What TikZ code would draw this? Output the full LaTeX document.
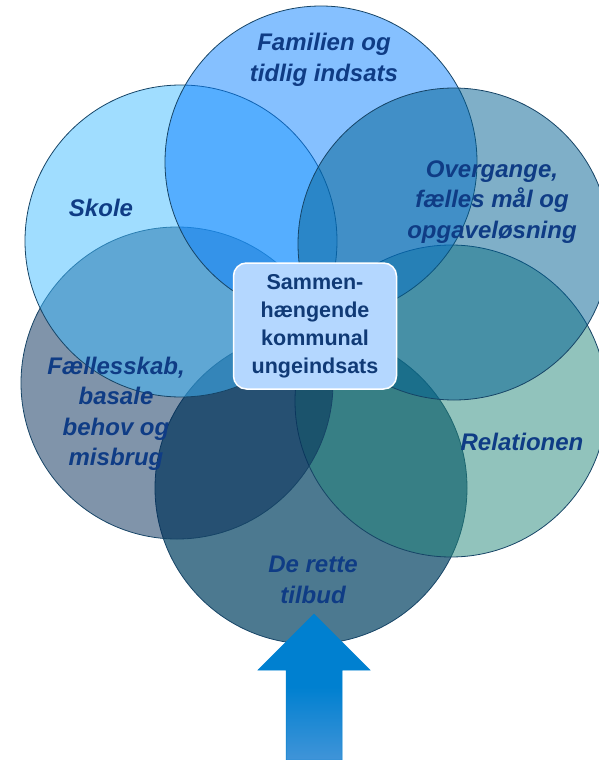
\documentclass[tikz,border=0pt]{standalone}
\usepackage{fontspec}
\setmainfont{Liberation Sans}
\definecolor{cfam}{RGB}{11,129,255}
\definecolor{csko}{RGB}{65,187,255}
\definecolor{cove}{RGB}{0,95,145}
\definecolor{crel}{RGB}{35,135,121}
\definecolor{cfae}{RGB}{1,41,85}
\definecolor{cret}{RGB}{16,76,107}
\definecolor{cline}{RGB}{22,68,102}
\definecolor{ctext}{RGB}{15,60,133}
\definecolor{cboxtext}{RGB}{16,58,118}
\definecolor{cbox}{RGB}{180,215,255}
\definecolor{carrowtop}{RGB}{0,128,208}
\definecolor{carrowbot}{RGB}{64,148,216}
\tikzset{
  venn/.style={circle, minimum size=312pt, inner sep=0pt, draw=cline, line width=0.8pt, fill opacity=0.5},
  lbl/.style={text=ctext, align=center, inner sep=0pt, font={\fontsize{24}{30.5}\selectfont\bfseries\itshape}},
  centerbox/.style={rounded corners=13pt, minimum width=163pt, minimum height=126pt, fill=cbox, draw=white, line width=1.5pt, text=cboxtext, align=center, inner sep=0pt, font={\fontsize{21.5}{28}\selectfont\bfseries}},
  bigarrow/.style={top color=carrowtop, bottom color=carrowbot, middle color=carrowtop, draw=carrowtop, line width=0.5pt}
}
\begin{document}
\begin{tikzpicture}[x=1pt,y=-1pt]
\useasboundingbox (0,0) rectangle (598,760);
% circles, bottom to top
\node[venn, fill=cret, fill opacity=0.75] (ret) at (311,488) {};
\node[venn, fill=crel] (rel) at (451,401) {};
\node[venn, fill=cfae] (fae) at (177,383) {};
\node[venn, fill=csko] (sko) at (181,241) {};
\node[venn, fill=cfam] (fam) at (321,162) {};
\node[venn, fill=cove] (ove) at (454,244) {};
% labels
\node[lbl] (tfam) at (324,60) {Familien og\\tidlig indsats};
\node[lbl] (tsko) at (101,208) {Skole};
\node[lbl] (tove) at (492,202) {Overgange,\\fælles mål og\\opgaveløsning};
\node[lbl] (tfae) at (116,414) {Fællesskab,\\basale\\behov og\\misbrug};
\node[lbl] (trel) at (522,442) {Relationen};
\node[lbl] (tret) at (313,580) {De rette\\tilbud};
% center box
\node[centerbox] (hub) at (315,326) {Sammen-\\hængende\\kommunal\\ungeindsats};
% block arrow
\coordinate (a1) at (286,760);
\coordinate (a2) at (286,670);
\coordinate (a3) at (258,670);
\coordinate (tip) at (314,614);
\coordinate (a5) at (370,670);
\coordinate (a6) at (342,670);
\coordinate (a7) at (342,760);
\path[bigarrow] (a1) -- (a2) -- (a3) -- (tip) -- (a5) -- (a6) -- (a7) -- cycle;
\end{tikzpicture}
\end{document}
